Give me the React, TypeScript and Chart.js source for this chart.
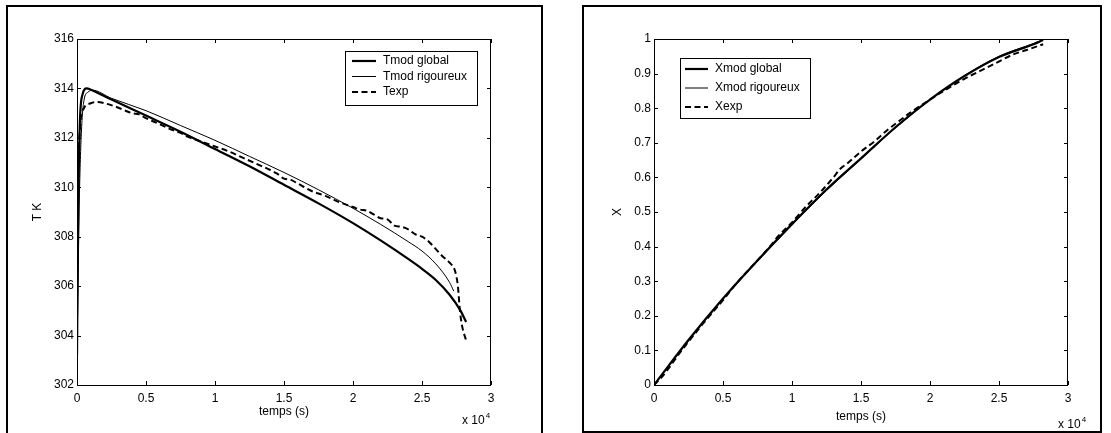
import React, { useEffect, useRef } from 'react';
import { Chart, registerables } from 'chart.js';

Chart.register(...registerables);

const FONT = "'Liberation Sans', Arial, Helvetica, sans-serif";

// ---------- Left panel: temperature (time in 10^4 s) ----------
const tGlobal = [0, 0.01, 0.02, 0.04, 0.07, 0.1, 0.25, 0.5, 0.75, 1.0, 1.25, 1.5, 1.75, 2.0, 2.2, 2.4, 2.5, 2.6, 2.7, 2.78, 2.82];
const TGlobal = [303.2, 309.5, 312.5, 313.75, 314.0, 313.95, 313.55, 312.9, 312.25, 311.55, 310.85, 310.1, 309.35, 308.55, 307.85, 307.1, 306.7, 306.25, 305.65, 305.0, 304.55];

const tRig = [0, 0.015, 0.03, 0.05, 0.08, 0.11, 0.25, 0.5, 0.75, 1.0, 1.25, 1.5, 1.75, 2.0, 2.2, 2.4, 2.5, 2.6, 2.7, 2.73];
const TRig = [303.2, 309.0, 312.0, 313.5, 313.85, 313.93, 313.6, 313.1, 312.5, 311.9, 311.25, 310.6, 309.9, 309.15, 308.5, 307.8, 307.42, 306.9, 306.15, 305.8];

const tExp = [0, 0.01, 0.025, 0.05, 0.1, 0.15, 0.2, 0.3, 0.35, 0.4, 0.45, 0.5, 0.6, 0.7, 0.75, 0.8, 0.9, 1.0, 1.1, 1.2, 1.3, 1.4, 1.45, 1.5, 1.55, 1.6, 1.7, 1.8, 1.9, 2.0, 2.05, 2.1, 2.15, 2.2, 2.25, 2.3, 2.35, 2.4, 2.45, 2.5, 2.55, 2.6, 2.65, 2.7, 2.74, 2.76, 2.775, 2.79, 2.82];
const TExp = [305.8, 310.5, 312.6, 313.2, 313.4, 313.45, 313.4, 313.22, 313.1, 313.0, 312.95, 312.8, 312.55, 312.3, 312.2, 312.05, 311.85, 311.65, 311.45, 311.2, 310.95, 310.7, 310.55, 310.35, 310.3, 310.15, 309.85, 309.65, 309.4, 309.2, 309.1, 309.05, 308.9, 308.75, 308.7, 308.45, 308.4, 308.3, 308.1, 308.0, 307.8, 307.5, 307.2, 306.95, 306.6, 306.0, 305.0, 304.4, 303.8];

const tempTicks = { min: 302, max: 316, step: 2 };

// ---------- Right panel: conversion X ----------
const tX = [0, 0.25, 0.5, 0.75, 1.0, 1.25, 1.5, 1.75, 2.0, 2.25, 2.5, 2.75, 2.82];
const XGlobal = [0, 0.13, 0.25, 0.36, 0.465, 0.565, 0.655, 0.745, 0.825, 0.893, 0.948, 0.985, 0.997];
const XRig = [0, 0.128, 0.248, 0.358, 0.463, 0.562, 0.653, 0.743, 0.824, 0.894, 0.95, 0.987, 0.998];

const tXExp = [0, 0.05, 0.1, 0.2, 0.25, 0.35, 0.5, 0.6, 0.75, 0.85, 0.9, 1.0, 1.1, 1.2, 1.3, 1.35, 1.4, 1.5, 1.6, 1.7, 1.75, 1.85, 2.0, 2.1, 2.25, 2.4, 2.5, 2.6, 2.7, 2.75, 2.82];
const XExp = [0, 0.02, 0.045, 0.1, 0.125, 0.175, 0.245, 0.295, 0.36, 0.405, 0.43, 0.47, 0.515, 0.555, 0.6, 0.625, 0.64, 0.675, 0.705, 0.74, 0.755, 0.785, 0.825, 0.85, 0.885, 0.915, 0.935, 0.955, 0.968, 0.975, 0.985];

const timeTicks = { min: 0, max: 3, step: 0.5 };
const convTicks = { min: 0, max: 1, step: 0.1 };

const legendLeft = ['Tmod global', 'Tmod rigoureux', 'Texp'];
const legendRight = ['Xmod global', 'Xmod rigoureux', 'Xexp'];

const pts = (xs: number[], ys: number[]) => xs.map((x, i) => ({ x, y: ys[i] }));

const fmt = (v: number) => String(Math.round(v * 100) / 100);

const matlabPlugin = {
  id: 'matlab',
  afterDatasetsDraw(chart: any, _args: any, opts: any) {
    const ctx: CanvasRenderingContext2D = chart.ctx;
    const { left, right, top, bottom } = chart.chartArea;
    ctx.save();
    // legend
    const lg = opts.legend;
    if (lg) {
      const [x1, y1, x2, y2] = lg.box;
      ctx.fillStyle = '#fff';
      ctx.fillRect(x1, y1, x2 - x1, y2 - y1);
      ctx.strokeStyle = '#000';
      ctx.lineWidth = 1;
      ctx.setLineDash([]);
      ctx.strokeRect(x1 + 0.5, y1 + 0.5, x2 - x1, y2 - y1);
      chart.data.datasets.forEach((ds: any, i: number) => {
        const y = lg.rows[i];
        ctx.beginPath();
        ctx.lineWidth = ds.borderWidth;
        ctx.setLineDash(ds.borderDash || []);
        ctx.strokeStyle = ds.borderColor;
        ctx.moveTo(lg.line[0], y);
        ctx.lineTo(lg.line[1], y);
        ctx.stroke();
        ctx.setLineDash([]);
        ctx.fillStyle = '#000';
        ctx.font = `12px ${FONT}`;
        ctx.textBaseline = 'middle';
        ctx.textAlign = 'left';
        ctx.fillText(ds.label, lg.textX, y);
      });
    }
    // axes frame
    ctx.setLineDash([]);
    ctx.strokeStyle = '#000';
    ctx.lineWidth = 1;
    ctx.strokeRect(left + 0.5, top + 0.5, right - left - 1, bottom - top);
    // inward ticks on all sides
    const xs = chart.scales.x;
    const ys = chart.scales.y;
    const tl = 4;
    ctx.beginPath();
    xs.ticks.forEach((t: any) => {
      const px = Math.round(xs.getPixelForValue(t.value)) + 0.5;
      ctx.moveTo(px, bottom);
      ctx.lineTo(px, bottom - tl);
      ctx.moveTo(px, top);
      ctx.lineTo(px, top + tl);
    });
    ys.ticks.forEach((t: any) => {
      const py = Math.round(ys.getPixelForValue(t.value)) + 0.5;
      ctx.moveTo(left, py);
      ctx.lineTo(left + tl, py);
      ctx.moveTo(right, py);
      ctx.lineTo(right - tl, py);
    });
    ctx.stroke();
    // exponent label
    if (opts.exp) {
      ctx.fillStyle = '#000';
      ctx.textBaseline = 'alphabetic';
      ctx.textAlign = 'left';
      ctx.font = `12px ${FONT}`;
      const base = 'x 10';
      ctx.fillText(base, opts.exp.x, opts.exp.y);
      const w = ctx.measureText(base).width;
      ctx.font = `8px ${FONT}`;
      ctx.fillText('4', opts.exp.x + w + 1, opts.exp.y - 6);
    }
    // outer panel box
    if (opts.box) {
      const [x1, y1, x2, y2] = opts.box;
      ctx.lineWidth = 2;
      ctx.strokeRect(x1, y1, x2 - x1, y2 - y1);
    }
    ctx.restore();
  },
};

function makeConfig(p: any) {
  const font = { family: FONT, size: 12 };
  return {
    type: 'line',
    data: {
      datasets: [
        { label: p.labels[0], data: p.d0, borderColor: '#000', borderWidth: 2.2, pointRadius: 0, cubicInterpolationMode: 'monotone' },
        { label: p.labels[1], data: p.d1, borderColor: '#000', borderWidth: 1, pointRadius: 0, cubicInterpolationMode: 'monotone' },
        { label: p.labels[2], data: p.d2, borderColor: '#000', borderWidth: 2, borderDash: [6, 3.5], pointRadius: 0, cubicInterpolationMode: 'monotone' },
      ],
    },
    options: {
      animation: false,
      responsive: false,
      maintainAspectRatio: false,
      layout: { padding: { left: 0, top: p.top, right: p.right, bottom: 0 } },
      scales: {
        x: {
          type: 'linear',
          position: 'bottom',
          min: timeTicks.min,
          max: timeTicks.max,
          grid: { display: false, drawTicks: false },
          border: { display: false },
          ticks: { stepSize: timeTicks.step, font, color: '#000', padding: 6, maxRotation: 0, autoSkip: false, callback: (v: number) => fmt(v) },
          title: { display: true, text: 'temps (s)', font, color: '#000', padding: { top: 0, bottom: p.xTitlePad } },
          afterFit: (s: any) => { s.height = 433 - p.bottomArea; },
        },
        y: {
          type: 'linear',
          position: 'left',
          min: p.yr.min,
          max: p.yr.max,
          grid: { display: false, drawTicks: false },
          border: { display: false },
          ticks: { stepSize: p.yr.step, font, color: '#000', padding: 3, autoSkip: false, callback: (v: number) => fmt(v) },
          title: { display: true, text: p.yTitle, font, color: '#000', padding: { top: p.yTitlePad, bottom: 0 } },
          afterFit: (s: any) => { s.width = p.leftArea; },
        },
      },
      plugins: {
        legend: { display: false },
        tooltip: { enabled: false },
        matlab: { legend: p.legend, exp: p.exp, box: p.box },
      },
    },
    plugins: [matlabPlugin],
  } as any;
}

export default function App() {
  const leftRef = useRef<HTMLCanvasElement>(null);
  const rightRef = useRef<HTMLCanvasElement>(null);

  useEffect(() => {
    const c1 = new Chart(leftRef.current!, makeConfig({
      labels: legendLeft,
      d0: pts(tGlobal, TGlobal),
      d1: pts(tRig, TRig),
      d2: pts(tExp, TExp),
      yr: tempTicks,
      yTitle: 'T K',
      top: 39,
      right: 555 - 491,
      leftArea: 77,
      bottomArea: 385,
      xTitlePad: 14,
      yTitlePad: 30,
      legend: { box: [345, 51, 477, 105], line: [352, 376], textX: 383, rows: [61, 76.5, 92] },
      exp: { x: 462, y: 424 },
      box: [7, 6, 542, 445],
    }));
    const c2 = new Chart(rightRef.current!, makeConfig({
      labels: legendRight,
      d0: pts(tX, XGlobal),
      d1: pts(tX, XRig),
      d2: pts(tXExp, XExp),
      yr: convTicks,
      yTitle: 'X',
      top: 39,
      right: 556 - 513,
      leftArea: 99,
      bottomArea: 385,
      xTitlePad: 9,
      yTitlePad: 55,
      legend: { box: [125, 58, 255, 118], line: [130, 153], textX: 160, rows: [69, 88, 107] },
      exp: { x: 503, y: 428 },
      box: [28, 6, 546, 432],
    }));
    return () => { c1.destroy(); c2.destroy(); };
  }, []);

  return (
    <div style={{ position: 'absolute', left: 0, top: 0, width: 1111, height: 433, background: '#fff' }}>
      <canvas ref={leftRef} width={555} height={433} style={{ position: 'absolute', left: 0, top: 0, width: 555, height: 433 }} />
      <canvas ref={rightRef} width={556} height={433} style={{ position: 'absolute', left: 555, top: 0, width: 556, height: 433 }} />
    </div>
  );
}
